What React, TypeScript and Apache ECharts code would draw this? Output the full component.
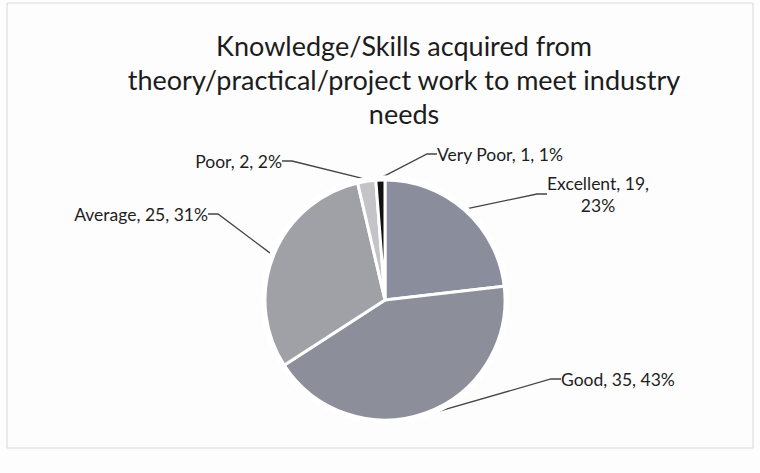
import React, { useEffect, useRef } from "react";
import * as echarts from "echarts";

const titleText = "Knowledge/Skills acquired from\ntheory/practical/project work to meet industry\nneeds";
const categories = ["Excellent", "Good", "Average", "Poor", "Very Poor"];
const counts = [19, 35, 25, 2, 1];
const sliceColors = ["#898d9c", "#8c8f99", "#a0a1a7", "#c4c3c8", "#111111"];

// label placements (layout only)
const labelPlaces: { x: number; y: number; align: string }[] = [
  { x: 598, y: 194, align: "center" },
  { x: 561, y: 379, align: "left" },
  { x: 208, y: 214, align: "right" },
  { x: 282, y: 161, align: "right" },
  { x: 437, y: 154, align: "left" },
];

export default function App() {
  const ref = useRef<HTMLDivElement>(null);
  useEffect(() => {
    if (!ref.current) return;
    const chart = echarts.init(ref.current, null, { renderer: "svg" });
    const data = categories.map((c, i) => ({
      name: c,
      value: counts[i],
      itemStyle: { color: sliceColors[i] },
      label: i === 0 ? { formatter: "{b}, {c},\n{d}%" } : undefined,
    }));
    chart.setOption({
      animation: false,
      backgroundColor: "#fdfdfd",
      title: {
        text: titleText,
        left: 399,
        top: 23,
        textAlign: "center",
        textStyle: {
          fontFamily: "Lato",
          fontWeight: "normal",
          fontSize: 27,
          lineHeight: 34,
          color: "#1c1c1c",
        },
      },
      graphic: [
        {
          type: "rect",
          shape: { x: 7, y: 3, width: 746, height: 445 },
          style: { fill: "none", stroke: "#d8d8d8", lineWidth: 1 },
          silent: true,
        },
      ],
      series: [
        {
          type: "pie",
          center: [385, 300],
          radius: 122,
          startAngle: 90,
          clockwise: true,
          percentPrecision: 0,
          data,
          itemStyle: { borderColor: "#ffffff", borderWidth: 3 },
          label: {
            show: true,
            fontFamily: "Lato",
            fontSize: 17.5,
            color: "#1e1e1e",
            formatter: "{b}, {c}, {d}%",
            lineHeight: 22,
          },
          labelLine: {
            show: true,
            length: 10,
            length2: 10,
            lineStyle: { color: "#444444", width: 1.3 },
          },
          labelLayout: (params: any) => {
            const p = labelPlaces[params.dataIndex];
            return {
              x: p.x,
              y: p.y,
              align: p.align,
              verticalAlign: "middle",
            };
          },
          emphasis: { disabled: true },
        },
        {
          type: "pie",
          center: [385, 300],
          radius: [120, 123],
          startAngle: 90,
          clockwise: true,
          silent: true,
          data: categories.map((c, i) => ({ name: c, value: counts[i] })),
          itemStyle: { color: "#55585f", borderColor: "#ffffff", borderWidth: 3 },
          label: { show: false },
          labelLine: { show: false },
          emphasis: { disabled: true },
        },
      ],
    });
    return () => chart.dispose();
  }, []);
  return (
    <div
      ref={ref}
      style={{ position: "absolute", left: 0, top: 0, width: 760, height: 473 }}
    />
  );
}
